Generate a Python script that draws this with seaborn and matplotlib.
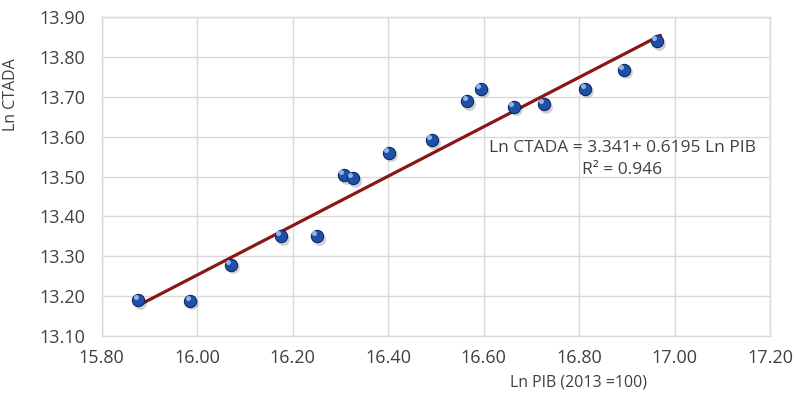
import matplotlib
matplotlib.use("Agg")
import matplotlib.pyplot as plt
import seaborn as sns
import numpy as np
import pandas as pd

ln_pib = [15.877, 15.986, 16.071, 16.176, 16.251, 16.307, 16.326, 16.401,
          16.491, 16.566, 16.595, 16.664, 16.727, 16.813, 16.894, 16.963]
ln_ctada = [13.190, 13.188, 13.278, 13.350, 13.350, 13.503, 13.496, 13.559,
            13.591, 13.689, 13.720, 13.674, 13.681, 13.720, 13.767, 13.839]
intercept = 3.341
slope = 0.6195
r2 = 0.946
x_ticks = [15.80, 16.00, 16.20, 16.40, 16.60, 16.80, 17.00, 17.20]
y_ticks = [13.10, 13.20, 13.30, 13.40, 13.50, 13.60, 13.70, 13.80, 13.90]

df = pd.DataFrame({"Ln PIB": ln_pib, "Ln CTADA": ln_ctada})

sns.set_theme(style="whitegrid")
plt.rcParams["font.family"] = ["Open Sans", "DejaVu Sans"]

fig = plt.figure(figsize=(7.94, 3.94), dpi=100)
ax = fig.add_axes([0.128, 0.147, 0.842, 0.810])

# trend line from the reported equation
xl = np.array([min(ln_pib), max(ln_pib) + 0.007])
line_df = pd.DataFrame({"x": xl, "y": intercept + slope * xl})
sns.lineplot(data=line_df, x="x", y="y", ax=ax, color="#8b1616", linewidth=2.3, zorder=2)

# shadow
ax.scatter(np.array(ln_pib) + 0.004, np.array(ln_ctada) - 0.006, s=85, color="#000000",
           alpha=0.18, linewidths=0, zorder=2.5)
sns.scatterplot(data=df, x="Ln PIB", y="Ln CTADA", ax=ax, s=78, color="#1f4fa8",
                edgecolor="#0e2a66", linewidth=0.8, zorder=3)
# highlight
ax.scatter(np.array(ln_pib) - 0.006, np.array(ln_ctada) + 0.008, s=13, color="#9fc0f0",
           linewidths=0, zorder=4, alpha=0.9)

ax.set_xlim(15.80, 17.20)
ax.set_ylim(13.10, 13.90)
ax.set_xticks(x_ticks)
ax.set_yticks(y_ticks)
ax.set_xticklabels([f"{v:.2f}" for v in x_ticks])
ax.set_yticklabels([f"{v:.2f}" for v in y_ticks])
ax.tick_params(axis="both", labelsize=13, colors="#404040", length=0)
ax.tick_params(axis="y", pad=12)
ax.tick_params(axis="x", pad=9)
ax.grid(True, color="#d9d9d9", linewidth=1.0)
for s in ax.spines.values():
    s.set_color("#d9d9d9")
    s.set_linewidth(1.0)

ax.set_xlabel("")
ax.set_ylabel("")
fig.text(0.728, 0.030, "Ln PIB (2013 =100)", fontsize=11.5, color="#404040", ha="center", va="center")
fig.text(0.014, 0.76, "Ln CTADA", fontsize=11.5, color="#404040", rotation=90, ha="center", va="center")

ax.text(16.89, 13.571, f"Ln CTADA = {intercept}+ {slope} Ln PIB", fontsize=12.5, color="#404040",
        ha="center", va="center")
ax.text(16.89, 13.516, f"R² = {r2}", fontsize=12.5, color="#404040", ha="center", va="center")

fig.savefig("out.png", dpi=100)
